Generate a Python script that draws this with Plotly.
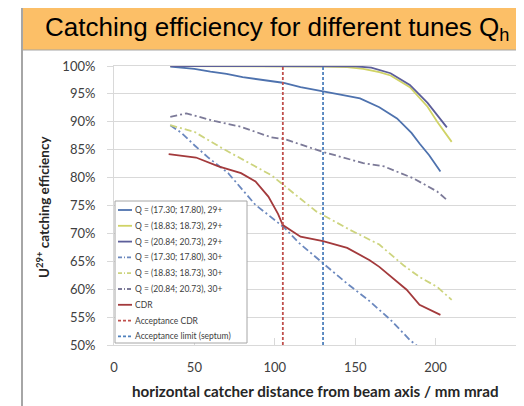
import plotly.graph_objects as go

# ---------------- data ----------------
q1_29_x = [35, 50, 60, 70, 80, 90, 100, 105, 116, 130, 140, 153, 165, 176, 185, 190, 196, 203]
q1_29_y = [99.9, 99.5, 99.0, 98.6, 98.0, 97.6, 97.2, 97.0, 96.2, 95.5, 94.9, 94.2, 92.6, 90.6, 88.0, 86.1, 84.0, 81.1]

q2_29_x = [35, 60, 100, 130, 145, 155, 165, 172, 184, 195, 201, 210]
q2_29_y = [100, 100, 100, 99.9, 99.8, 99.5, 98.9, 98.3, 96.2, 92.7, 90.0, 86.4]

q3_29_x = [35, 60, 100, 130, 150, 160, 172, 184, 195, 201, 207]
q3_29_y = [100, 100, 100, 100, 99.95, 99.7, 98.7, 96.6, 93.4, 91.2, 89.0]

q1_30_x = [35, 42, 50, 59, 71, 79, 88, 96, 106, 115, 130, 145, 158, 172, 184, 190]
q1_30_y = [89.4, 88.0, 85.8, 83.5, 80.8, 78.1, 75.1, 73.3, 71.0, 68.3, 64.6, 61.0, 58.1, 54.5, 50.9, 49.5]

q2_30_x = [35, 50, 67, 84, 98, 113, 126, 147, 165, 180, 190, 201, 210]
q2_30_y = [89.4, 88.2, 85.3, 82.6, 80.4, 76.9, 73.9, 70.6, 68.0, 64.3, 62.2, 60.4, 58.1]

q3_30_x = [35, 45, 63, 79, 98, 106, 130, 155, 168, 186, 201, 207]
q3_30_y = [90.9, 91.5, 90.1, 89.1, 87.2, 86.9, 84.6, 82.6, 82.0, 79.9, 77.5, 76.0]

cdr_x = [34, 51, 65, 79, 88, 96, 102, 105, 116, 130, 145, 159, 165, 182, 190, 203]
cdr_y = [84.2, 83.6, 82.0, 80.8, 79.3, 76.6, 73.5, 71.5, 69.4, 68.6, 67.4, 65.2, 64.0, 59.9, 57.2, 55.4]

acceptance_cdr_x = 105
acceptance_septum_x = 130

names = [
    "Q = (17.30; 17.80), 29+",
    "Q = (18.83; 18.73), 29+",
    "Q = (20.84; 20.73), 29+",
    "Q = (17.30; 17.80), 30+",
    "Q = (18.83; 18.73), 30+",
    "Q = (20.84; 20.73), 30+",
    "CDR",
    "Acceptance CDR",
    "Acceptance limit (septum)",
]

x_ticks = [0, 50, 100, 150, 200, 250]
y_ticks = [50, 55, 60, 65, 70, 75, 80, 85, 90, 95, 100]
y_tick_labels = ["50%", "55%", "60%", "65%", "70%", "75%", "80%", "85%", "90%", "95%", "100%"]

# ---------------- figure ----------------
OFF = 8                      # page body margin of the browser
W, H = 524 - OFF, 406 - OFF
L, R, T, B = 114, 516, 66, 345   # plot area in reference pixels


def px_x(p):
    return (p - L) / (R - L)


def px_y(p):
    return (B - p) / (B - T)


fig = go.Figure()

dashdot = "7px,3px,2px,3px"
dotted = "3px,2px"
styles = [
    ("#4E72AE", "solid"),
    ("#D0D366", "solid"),
    ("#5C5E9A", "solid"),
    ("#6B88BE", dashdot),
    ("#CDD47E", dashdot),
    ("#7C7A98", dashdot),
    ("#A33A3C", "solid"),
    ("#C0504D", dotted),
    ("#4F81BD", dotted),
]
data = [
    (q1_29_x, q1_29_y), (q2_29_x, q2_29_y), (q3_29_x, q3_29_y),
    (q1_30_x, q1_30_y), (q2_30_x, q2_30_y), (q3_30_x, q3_30_y),
    (cdr_x, cdr_y),
    ([acceptance_cdr_x, acceptance_cdr_x], [y_ticks[0], y_ticks[-1]]),
    ([acceptance_septum_x, acceptance_septum_x], [y_ticks[0], y_ticks[-1]]),
]
for (xs, ys), nm, (col, dash) in zip(data, names, styles):
    fig.add_trace(go.Scatter(x=xs, y=ys, name=nm, mode="lines",
                             line=dict(color=col, dash=dash, width=1.8)))

grid = "#D9D9D9"
fig.update_xaxes(range=[0, 250], tickvals=x_ticks, showgrid=False, zeroline=False,
                 showline=True, linecolor=grid, linewidth=1, mirror=True,
                 ticks="inside", ticklen=7, tickcolor=grid,
                 tickfont=dict(family="Lato", size=13, color="#404040"),
                 ticklabelstandoff=10)
fig.update_yaxes(range=[50, 100], tickvals=y_ticks, ticktext=y_tick_labels, showgrid=True,
                 gridcolor=grid, gridwidth=1, zeroline=False,
                 showline=True, linecolor=grid, linewidth=1, mirror=True,
                 ticks="outside", ticklen=6, tickcolor=grid,
                 tickfont=dict(family="Lato", size=13, color="#404040"),
                 ticklabelstandoff=9)

shapes = [
    # title banner
    dict(type="rect", xref="paper", yref="paper",
         x0=px_x(22), x1=px_x(530), y0=px_y(50), y1=px_y(6),
         fillcolor="#FCBF67", line=dict(color="#A6A6A6", width=1), layer="below"),
    # left frame line
    dict(type="line", xref="paper", yref="paper",
         x0=px_x(22), x1=px_x(22), y0=px_y(410), y1=px_y(6),
         line=dict(color="#A6A6A6", width=2)),
    # legend box
    dict(type="rect", xref="paper", yref="paper",
         x0=px_x(115), x1=px_x(247), y0=px_y(343), y1=px_y(201),
         fillcolor="white", line=dict(color="#A6A6A6", width=1), layer="above"),
]

annotations = [
    dict(text="Catching efficiency for different tunes Q<sub>h</sub>", xref="paper", yref="paper",
         x=px_x(277), y=px_y(29), xanchor="center", yanchor="middle", showarrow=False,
         font=dict(family="Liberation Sans", size=26, color="#000000")),
    dict(text="<b>horizontal catcher distance from beam axis / mm mrad</b>", xref="paper", yref="paper",
         x=px_x(315), y=px_y(391), xanchor="center", yanchor="middle", showarrow=False,
         font=dict(family="Lato", size=15.2, color="#262626")),
    dict(text="<b>U<sup>29+</sup> catching efficiency</b>", xref="paper", yref="paper",
         x=px_x(43), y=px_y(207), xanchor="center", yanchor="middle", showarrow=False,
         textangle=-90, font=dict(family="Lato", size=13.5, color="#262626")),
]

# hand-drawn legend (compact like the reference)
for i, (nm, (col, dash)) in enumerate(zip(names, styles)):
    yy = 210 + 15.8 * i
    shapes.append(dict(type="line", xref="paper", yref="paper",
                       x0=px_x(118), x1=px_x(132), y0=px_y(yy), y1=px_y(yy),
                       line=dict(color=col, dash=dash if dash != dashdot else "4px,2px,1px,2px", width=1.8),
                       layer="above"))
    annotations.append(dict(text=nm, xref="paper", yref="paper",
                            x=px_x(133), y=px_y(yy), xanchor="left", yanchor="middle",
                            showarrow=False,
                            font=dict(family="Lato", size=8.5, color="#404040")))

fig.update_layout(
    width=W, height=H,
    margin=dict(l=L - OFF, r=W - (R - OFF), t=T - OFF, b=H - (B - OFF)),
    paper_bgcolor="white", plot_bgcolor="white",
    showlegend=False,
    shapes=shapes,
    annotations=annotations,
)

fig.write_html("out.html")
